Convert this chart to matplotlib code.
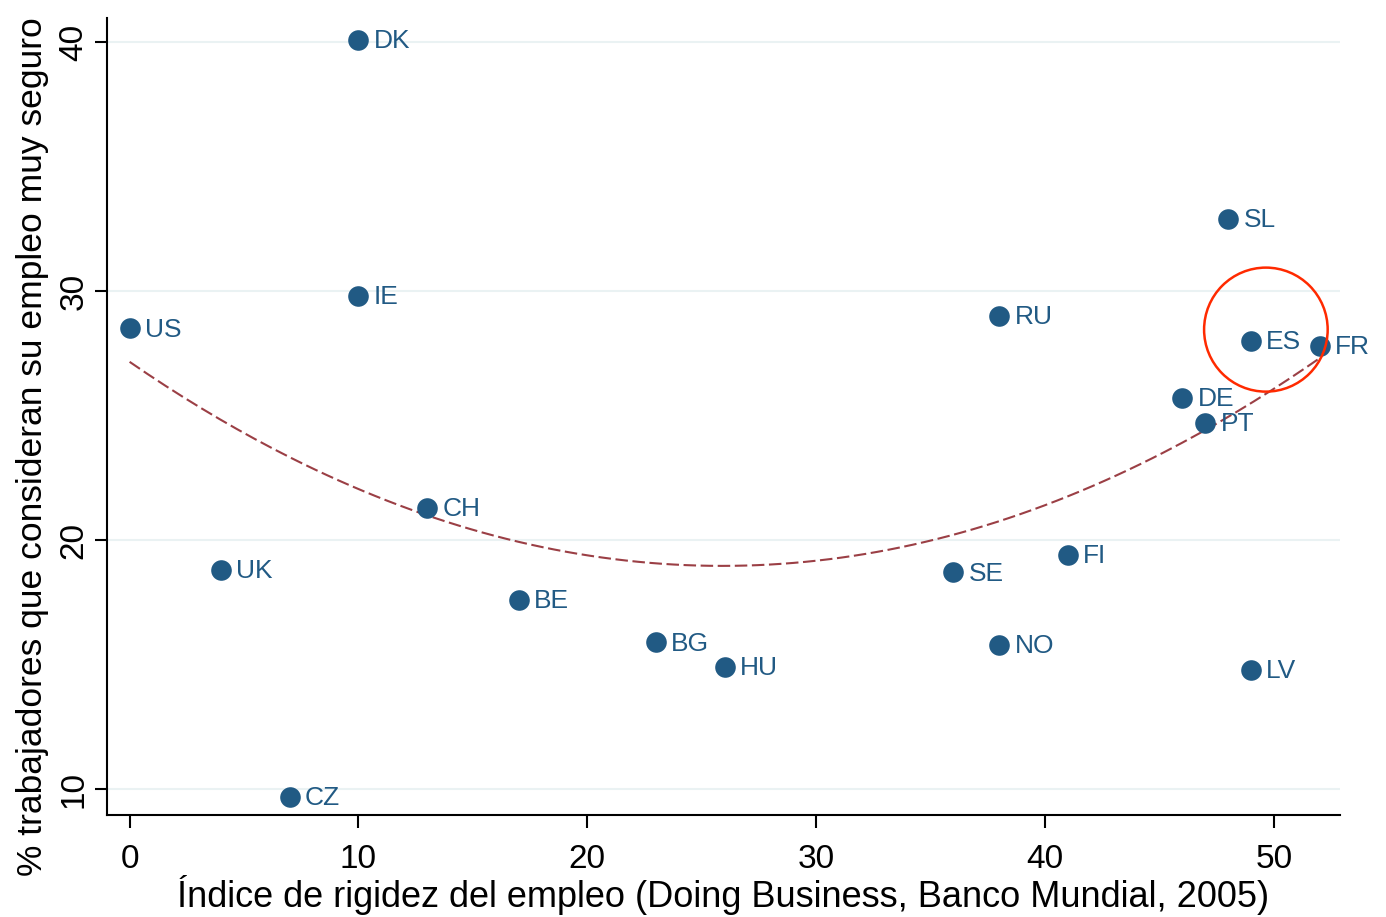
import numpy as np
import matplotlib.pyplot as plt
from matplotlib.patches import Ellipse

plt.rcParams['font.family'] = ['Liberation Sans Narrow', 'Liberation Sans', 'DejaVu Sans']

paises = ['US', 'UK', 'CZ', 'DK', 'IE', 'CH', 'BE', 'BG', 'HU', 'SE',
          'RU', 'NO', 'FI', 'DE', 'PT', 'SL', 'ES', 'LV', 'FR']
rigidez = [0, 4, 7, 10, 10, 13, 17, 23, 26, 36,
           38, 38, 41, 46, 47, 48, 49, 49, 52]
seguro = [28.5, 18.8, 9.7, 40.1, 29.8, 21.3, 17.6, 15.9, 14.9, 18.7,
          29.0, 15.8, 19.4, 25.7, 24.7, 32.9, 28.0, 14.8, 27.8]

azul = '#215a84'
granate = '#9b3f45'

fig = plt.figure(figsize=(13.86, 9.17), dpi=100)
ax = fig.add_axes([0.077, 0.111, 0.890, 0.869])

for y in [10, 20, 30, 40]:
    ax.axhline(y, color='#eaf2f3', lw=1.5, zorder=0)

# ajuste cuadratico
coef = np.polyfit(rigidez, seguro, 2)
xs = np.linspace(min(rigidez), max(rigidez), 200)
ax.plot(xs, np.polyval(coef, xs), color=granate, lw=1.5, ls=(0, (6, 2.2)), zorder=2)

ax.scatter(rigidez, seguro, s=220, color=azul, zorder=3, linewidths=0)
for p, x, y in zip(paises, rigidez, seguro):
    ax.annotate(p, (x, y), xytext=(11, -1), textcoords='offset points',
                va='center', ha='left', fontsize=19, color=azul,
                family=['Liberation Sans', 'DejaVu Sans'])

# Espana destacada
ax.add_patch(Ellipse((49.65, 28.45), 5.4, 4.98, fill=False, ec='#ff2a00', lw=1.8, zorder=4))

ax.set_xlim(-1.0, 52.9)
ax.set_ylim(8.95, 40.95)
ax.set_xticks([0, 10, 20, 30, 40, 50])
ax.set_yticks([10, 20, 30, 40])
ax.tick_params(axis='both', labelsize=24, length=9, width=1.5, color='black')
ax.tick_params(axis='x', pad=12)
ax.tick_params(axis='y', labelrotation=90)
for lab in ax.get_yticklabels():
    lab.set_va('center')
ax.spines['top'].set_visible(False)
ax.spines['right'].set_visible(False)
ax.spines['left'].set_linewidth(1.5)
ax.spines['bottom'].set_linewidth(1.5)

ax.set_xlabel('Índice de rigidez del empleo (Doing Business, Banco Mundial, 2005)',
              fontsize=26, labelpad=0)
ax.set_ylabel('% trabajadores que consideran su empleo muy seguro', fontsize=25.5)
ax.yaxis.set_label_coords(-0.047, 0.463)

fig.savefig('out.png', dpi=100, facecolor='white')
